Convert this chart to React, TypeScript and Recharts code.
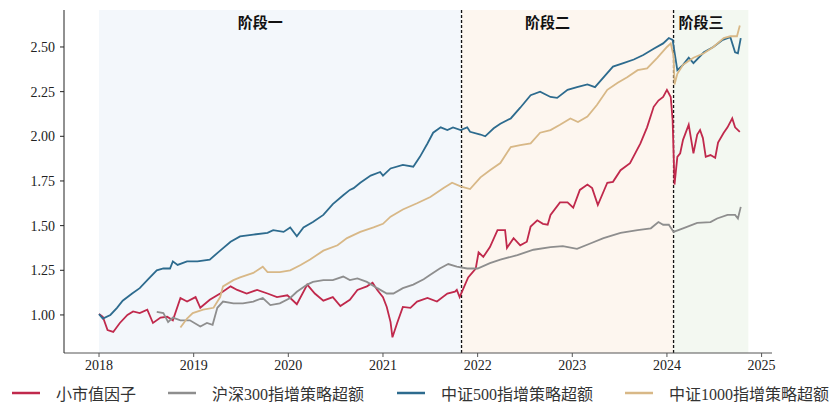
import React from "react";
import {
  LineChart,
  Line,
  XAxis,
  YAxis,
  ReferenceArea,
  ReferenceLine,
} from "recharts";

// [year, value]
const smallCap: [number, number][] = [
  [2018.0, 1.005], [2018.04, 0.99], [2018.09, 0.915], [2018.15, 0.905], [2018.22, 0.955],
  [2018.3, 1.0], [2018.36, 1.02], [2018.43, 1.01], [2018.51, 1.03], [2018.57, 0.955],
  [2018.65, 0.985], [2018.72, 0.99], [2018.78, 0.97], [2018.86, 1.095], [2018.93, 1.075],
  [2019.02, 1.1], [2019.07, 1.04], [2019.17, 1.085], [2019.28, 1.12], [2019.39, 1.16],
  [2019.46, 1.14], [2019.56, 1.12], [2019.67, 1.14], [2019.78, 1.12], [2019.88, 1.1],
  [2019.99, 1.11], [2020.09, 1.06], [2020.2, 1.17], [2020.28, 1.12], [2020.37, 1.08],
  [2020.47, 1.1], [2020.55, 1.05], [2020.65, 1.085], [2020.73, 1.14], [2020.83, 1.16],
  [2020.89, 1.18], [2020.94, 1.14], [2021.0, 1.1], [2021.04, 1.045], [2021.08, 0.96],
  [2021.1, 0.875], [2021.15, 0.955], [2021.21, 1.045], [2021.29, 1.04], [2021.36, 1.075],
  [2021.47, 1.095], [2021.57, 1.075], [2021.68, 1.12], [2021.76, 1.13], [2021.78, 1.14],
  [2021.81, 1.1], [2021.9, 1.21], [2021.98, 1.26], [2022.01, 1.35], [2022.06, 1.325],
  [2022.13, 1.38], [2022.21, 1.475], [2022.29, 1.475], [2022.31, 1.375], [2022.38, 1.43],
  [2022.45, 1.39], [2022.52, 1.41], [2022.56, 1.495], [2022.63, 1.53], [2022.69, 1.51],
  [2022.74, 1.505], [2022.77, 1.56], [2022.87, 1.63], [2022.95, 1.63], [2023.01, 1.6],
  [2023.08, 1.7], [2023.16, 1.73], [2023.21, 1.71], [2023.27, 1.615], [2023.37, 1.74],
  [2023.43, 1.745], [2023.51, 1.81], [2023.61, 1.85], [2023.72, 1.96], [2023.79, 2.05],
  [2023.86, 2.165], [2023.91, 2.2], [2023.96, 2.22], [2024.0, 2.26], [2024.04, 2.22],
  [2024.06, 2.09], [2024.08, 1.73], [2024.11, 1.885], [2024.14, 1.905], [2024.17, 1.98],
  [2024.23, 2.065], [2024.28, 1.905], [2024.32, 2.01], [2024.35, 2.035], [2024.38, 1.99],
  [2024.41, 1.885], [2024.46, 1.895], [2024.51, 1.88], [2024.54, 1.965], [2024.6, 2.02],
  [2024.64, 2.05], [2024.69, 2.1], [2024.72, 2.05], [2024.77, 2.025],
];

const hs300: [number, number][] = [
  [2018.61, 1.017], [2018.68, 1.01], [2018.73, 0.96], [2018.78, 0.985], [2018.86, 0.97],
  [2018.96, 0.97], [2019.07, 0.935], [2019.14, 0.955], [2019.2, 0.945], [2019.25, 1.04],
  [2019.31, 1.075], [2019.42, 1.065], [2019.52, 1.065], [2019.63, 1.075], [2019.73, 1.095],
  [2019.81, 1.055], [2019.91, 1.065], [2020.02, 1.095], [2020.09, 1.13], [2020.2, 1.17],
  [2020.26, 1.185], [2020.37, 1.195], [2020.47, 1.195], [2020.58, 1.215], [2020.65, 1.195],
  [2020.73, 1.205], [2020.83, 1.185], [2020.94, 1.15], [2021.04, 1.12], [2021.11, 1.12],
  [2021.21, 1.15], [2021.32, 1.17], [2021.43, 1.2], [2021.5, 1.225], [2021.6, 1.26],
  [2021.69, 1.285], [2021.78, 1.27], [2021.89, 1.26], [2022.0, 1.26], [2022.13, 1.29],
  [2022.24, 1.31], [2022.42, 1.335], [2022.59, 1.365], [2022.77, 1.38], [2022.9, 1.385],
  [2023.05, 1.37], [2023.19, 1.4], [2023.33, 1.43], [2023.51, 1.46], [2023.69, 1.475],
  [2023.83, 1.485], [2023.91, 1.52], [2023.96, 1.505], [2024.02, 1.505], [2024.07, 1.465],
  [2024.17, 1.485], [2024.32, 1.515], [2024.46, 1.52], [2024.53, 1.54], [2024.64, 1.56],
  [2024.72, 1.56], [2024.75, 1.54], [2024.78, 1.605],
];

const zz500: [number, number][] = [
  [2018.0, 1.005], [2018.04, 0.98], [2018.12, 1.0], [2018.19, 1.04], [2018.25, 1.08],
  [2018.35, 1.12], [2018.43, 1.15], [2018.52, 1.2], [2018.61, 1.25], [2018.68, 1.26],
  [2018.75, 1.26], [2018.78, 1.3], [2018.83, 1.28], [2018.93, 1.3], [2019.04, 1.3],
  [2019.17, 1.31], [2019.28, 1.36], [2019.39, 1.41], [2019.49, 1.44], [2019.63, 1.45],
  [2019.78, 1.46], [2019.84, 1.475], [2019.95, 1.465], [2020.02, 1.49], [2020.09, 1.44],
  [2020.16, 1.49], [2020.26, 1.52], [2020.37, 1.56], [2020.47, 1.62], [2020.58, 1.67],
  [2020.65, 1.7], [2020.69, 1.71], [2020.76, 1.74], [2020.87, 1.78], [2020.97, 1.8],
  [2021.0, 1.78], [2021.08, 1.82], [2021.21, 1.84], [2021.32, 1.83], [2021.39, 1.885],
  [2021.47, 1.96], [2021.53, 2.02], [2021.61, 2.05], [2021.68, 2.035], [2021.74, 2.05],
  [2021.82, 2.035], [2021.89, 2.05], [2021.92, 2.025], [2022.03, 2.01], [2022.08, 2.0],
  [2022.17, 2.045], [2022.24, 2.07], [2022.35, 2.1], [2022.45, 2.16], [2022.56, 2.23],
  [2022.66, 2.25], [2022.77, 2.22], [2022.84, 2.215], [2022.95, 2.26], [2023.05, 2.275],
  [2023.16, 2.29], [2023.24, 2.275], [2023.33, 2.33], [2023.43, 2.39], [2023.54, 2.41],
  [2023.65, 2.43], [2023.75, 2.455], [2023.86, 2.49], [2023.96, 2.52], [2024.02, 2.55],
  [2024.06, 2.54], [2024.11, 2.37], [2024.17, 2.4], [2024.23, 2.44], [2024.28, 2.41],
  [2024.39, 2.47], [2024.49, 2.5], [2024.59, 2.54], [2024.67, 2.555], [2024.72, 2.47],
  [2024.75, 2.465], [2024.78, 2.55],
];

const zz1000: [number, number][] = [
  [2018.86, 0.93], [2018.93, 0.98], [2018.99, 1.01], [2019.1, 1.03], [2019.21, 1.04],
  [2019.28, 1.1], [2019.31, 1.16], [2019.42, 1.195], [2019.49, 1.21], [2019.63, 1.235],
  [2019.73, 1.27], [2019.78, 1.24], [2019.91, 1.24], [2020.02, 1.25], [2020.13, 1.28],
  [2020.23, 1.31], [2020.37, 1.36], [2020.52, 1.39], [2020.62, 1.43], [2020.76, 1.465],
  [2020.9, 1.49], [2021.0, 1.51], [2021.08, 1.55], [2021.21, 1.59], [2021.36, 1.625],
  [2021.5, 1.66], [2021.64, 1.71], [2021.73, 1.74], [2021.82, 1.72], [2021.92, 1.705],
  [2022.03, 1.77], [2022.13, 1.81], [2022.24, 1.85], [2022.35, 1.94], [2022.45, 1.95],
  [2022.56, 1.96], [2022.66, 2.02], [2022.77, 2.035], [2022.87, 2.065], [2022.98, 2.1],
  [2023.06, 2.08], [2023.16, 2.11], [2023.26, 2.175], [2023.37, 2.26], [2023.48, 2.3],
  [2023.58, 2.33], [2023.69, 2.37], [2023.79, 2.38], [2023.9, 2.44], [2024.0, 2.5],
  [2024.04, 2.52], [2024.07, 2.45], [2024.08, 2.29], [2024.11, 2.35], [2024.17, 2.4],
  [2024.28, 2.44], [2024.39, 2.465], [2024.49, 2.5], [2024.6, 2.55], [2024.67, 2.56],
  [2024.74, 2.56], [2024.77, 2.62],
];

const seriesNames = ["小市值因子", "沪深300指增策略超额", "中证500指增策略超额", "中证1000指增策略超额"];
const yearTicks = [2018, 2019, 2020, 2021, 2022, 2023, 2024, 2025];
const valueTicks = [1.0, 1.25, 1.5, 1.75, 2.0, 2.25, 2.5];
const stageNames = ["阶段一", "阶段二", "阶段三"];
const stageBounds = [2018.0, 2021.83, 2024.07, 2024.86];

const COLORS = ["#c0294c", "#8e8e8e", "#2d6b8e", "#d8b887"];
const STAGE_FILLS = ["#f3f7fb", "#fdf6ef", "#f3f8f1"];
const LABEL_DX = [-20, -20, -10];
const LEGEND_LEFT = [10, 166, 395, 623];

const toPoints = (arr: [number, number][]) => arr.map(([x, y]) => ({ x, y }));
const allSeries = [smallCap, hs300, zz500, zz1000].map(toPoints);

const tickFont = { fontFamily: "'Liberation Serif', serif", fontSize: 14, fill: "#222" };

export default function App() {
  return (
    <div style={{ position: "absolute", left: 0, top: 0, width: 830, height: 408, background: "#fff" }}>
      <LineChart width={830} height={408} margin={{ top: 10, right: 58, bottom: 25, left: 0 }}>
        {stageNames.map((name, i) => (
          <ReferenceArea
            key={name}
            x1={stageBounds[i]}
            x2={stageBounds[i + 1]}
            fill={STAGE_FILLS[i]}
            fillOpacity={1}
            stroke="none"
            label={(props: any) => {
              const vb = props.viewBox;
              return (
                <text
                  x={vb.x + vb.width / 2 + LABEL_DX[i]}
                  y={vb.y + 18}
                  textAnchor="middle"
                  style={{
                    fontFamily: "'Noto Sans CJK SC', sans-serif",
                    fontSize: 15,
                    fontWeight: 700,
                    fill: "#111",
                  }}
                >
                  {name}
                </text>
              );
            }}
          />
        ))}
        <XAxis
          type="number"
          dataKey="x"
          domain={[2017.63, 2025.11]}
          allowDataOverflow
          ticks={yearTicks}
          tickFormatter={(v) => String(v)}
          tick={tickFont}
          tickSize={4}
          tickMargin={3}
          height={30}
          stroke="#555"
          tickLine={{ stroke: "#555" }}
        />
        <YAxis
          type="number"
          domain={[0.787, 2.707]}
          allowDataOverflow
          ticks={valueTicks}
          tickFormatter={(v) => v.toFixed(2)}
          tick={tickFont}
          tickSize={4}
          tickMargin={5}
          width={64}
          stroke="#222"
          tickLine={{ stroke: "#222" }}
        />
        {stageBounds.slice(1, 3).map((b) => (
          <ReferenceLine key={b} x={b} stroke="#111" strokeWidth={1.3} strokeDasharray="3 2" />
        ))}
        {allSeries.map((data, i) => (
          <Line
            key={seriesNames[i]}
            data={data}
            dataKey="y"
            type="linear"
            stroke={COLORS[i]}
            strokeWidth={1.8}
            dot={false}
            isAnimationActive={false}
          />
        ))}
      </LineChart>
      {seriesNames.map((name, i) => (
        <div
          key={name}
          style={{
            position: "absolute",
            top: 381,
            left: LEGEND_LEFT[i],
            display: "flex",
            alignItems: "center",
            fontFamily: "'Liberation Serif', 'Noto Sans CJK SC', serif",
            fontSize: 16,
            color: "#333",
            whiteSpace: "nowrap",
          }}
        >
          <svg width={32} height={20}>
            <line x1={2} y1={10} x2={30} y2={10} stroke={COLORS[i]} strokeWidth={2.5} />
          </svg>
          <span style={{ marginLeft: 14 }}>{name}</span>
        </div>
      ))}
    </div>
  );
}
